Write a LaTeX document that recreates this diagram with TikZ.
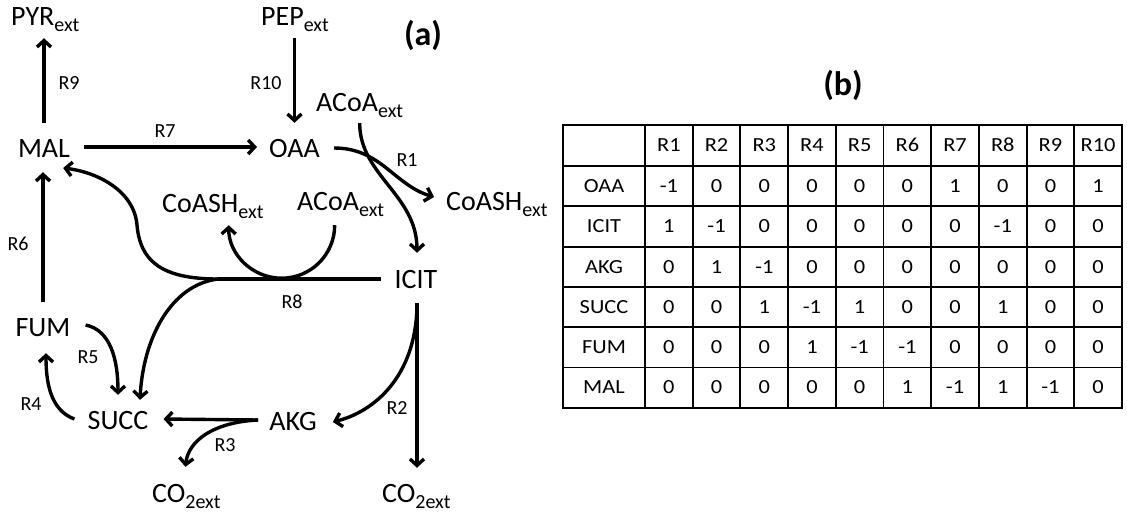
\documentclass[tikz,border=0pt]{standalone}
\usepackage{fontspec}
\setmainfont{Carlito}
\usetikzlibrary{arrows.meta}
\newcommand\subx[1]{\raisebox{-6.5pt}{\fontsize{20}{22}\selectfont #1}}
\begin{document}
\begin{tikzpicture}[x=1pt,y=-1pt,
  met/.style={font=\fontsize{28}{31}\selectfont, inner sep=0pt, text height=18pt, text depth=8pt},
  rl/.style={font=\fontsize{20}{22}\selectfont, inner sep=0pt, text height=12.6pt, text depth=0pt},
  tb/.style={font=\fontsize{20}{23}\selectfont, inner sep=0pt, text height=12.6pt, text depth=0pt},
  lbl/.style={font=\fontsize{34}{37}\selectfont\bfseries, inner sep=0pt},
  flow/.style={line width=3.4pt, -{Straight Barb[length=6.5pt,width=14pt]}},
  bond/.style={line width=3.4pt},
  tblline/.style={line width=1.9pt}]
\useasboundingbox (0,0) rectangle (1127,512);

% ---------- metabolites ----------
\node[met,anchor=base west] (pyr)   at (11,25)   {PYR\subx{ext}};
\node[met,anchor=base west] (pep)   at (261,25)  {PEP\subx{ext}};
\node[met,anchor=base west] (acoa1) at (316,111) {ACoA\subx{ext}};
\node[met,anchor=base]      (mal)   at (44,157)  {MAL};
\node[met,anchor=base]      (oaa)   at (294.5,157) {OAA};
\node[met,anchor=base west] (coash1) at (446,210) {CoASH\subx{ext}};
\node[met,anchor=base west] (coash2) at (162,212) {CoASH\subx{ext}};
\node[met,anchor=base west] (acoa2) at (297,210) {ACoA\subx{ext}};
\node[met,anchor=base]      (icit)  at (416,288) {ICIT};
\node[met,anchor=base]      (fum)   at (43,336)  {FUM};
\node[met,anchor=base]      (succ)  at (118,429) {SUCC};
\node[met,anchor=base]      (akg)   at (293,430) {AKG};
\node[met,anchor=base west] (co2a)  at (152,502) {CO\subx{2ext}};
\node[met,anchor=base west] (co2b)  at (382,502) {CO\subx{2ext}};

\node[lbl] (la) at (423,35) {(a)};
\node[lbl] (lb) at (843,85) {(b)};

% ---------- reaction labels ----------
\node[rl] (r9)  at (69,83)   {R9};
\node[rl] (r10) at (266,83)  {R10};
\node[rl] (r7)  at (165,131) {R7};
\node[rl] (r1)  at (407,160) {R1};
\node[rl] (r6)  at (18,244)  {R6};
\node[rl] (r8)  at (292,302) {R8};
\node[rl] (r5)  at (88,357)  {R5};
\node[rl] (r4)  at (31,404)  {R4};
\node[rl] (r2)  at (397,408) {R2};
\node[rl] (r3)  at (225,445) {R3};

% ---------- connectors ----------
% R9
\draw[flow, shorten <=16pt, shorten >=5pt] (mal.north) -- (mal.north |- pyr.south);
% R10
\draw[flow, shorten <=5pt, shorten >=16pt] (oaa.north |- pep.south) -- (oaa.north);
% R7
\draw[flow, shorten <=14pt, shorten >=12pt] ([yshift=5pt]mal.east) -- ([yshift=5pt]oaa.west);
% R6
\draw[flow, shorten <=16pt, shorten >=7pt] (fum.north) -- (fum.north |- mal.south);
% R1 : OAA -> CoASH_ext and ACoA_ext -> ICIT
\draw[flow] ([shift={(14pt,4pt)}]oaa.east) .. controls +(47,0) and +(-40,-12) .. ([shift={(-12pt,8pt)}]coash1.west);
\draw[flow] ([shift={(0pt,-4pt)}]acoa1.south) .. controls +(0,52) and +(0,-58) .. ([shift={(1pt,17pt)}]icit.north);
% R8
\coordinate (j) at (218,279);
\coordinate (c8) at (137,225);
\draw[bond] ([shift={(-13.5pt,4pt)}]icit.west) -- (j);
\draw[flow] (j) .. controls +(-58,0) and +(3,35) .. (c8) .. controls +(-3,-35) and +(33,4) .. ([shift={(-7pt,-16pt)}]mal.east);
\draw[flow] (j) .. controls +(-48,6) and +(3,-60) .. ([shift={(22pt,11pt)}]succ.north);
\draw[flow] ([shift={(-6pt,-7pt)}]acoa2.south) arc[start angle=0, end angle=180, radius=53];
% R5, R4
\draw[flow] ([shift={(15pt,6pt)}]fum.east) .. controls +(25,5) and +(0,-35) .. ([yshift=16pt]succ.north);
\draw[flow] ([shift={(-13pt,5pt)}]succ.west) .. controls +(-25,-9) and +(0,27) .. ([shift={(3pt,-9pt)}]fum.south);
% R3
\draw[flow] ([shift={(-11pt,5pt)}]akg.west) -- ([shift={(15pt,5pt)}]succ.east);
\draw[flow] ([shift={(-11pt,5pt)}]akg.west) .. controls +(-43,2) and +(3,-27) .. ([shift={(-1pt,17pt)}]co2a.north);
% R2
\draw[flow, shorten <=7pt, shorten >=16pt] ([xshift=1pt]icit.south) -- ([xshift=1pt]icit.south |- co2b.north);
\draw[flow] ([shift={(1pt,-7pt)}]icit.south) .. controls +(0,67) and +(47,-12) .. ([shift={(16pt,3pt)}]akg.east);

% ---------- table ----------
\draw[tblline] (563,125) rectangle (1122,407.8);
\foreach \k in {0,...,9} \draw[tblline] (645+47.7*\k,125) -- (645+47.7*\k,407.8);
\foreach \k in {0,...,5} \draw[tblline] (563,166+40.3*\k) -- (1122,166+40.3*\k);
\foreach \i in {1,...,10} \node[tb] (h\i) at (645+47.7*\i-23.85,145.5) {\scalebox{1.12}[1]{R\i}};
\foreach \nm/\vals [count=\j] in {OAA/{-1,0,0,0,0,0,1,0,0,1},
  ICIT/{1,-1,0,0,0,0,0,-1,0,0},
  AKG/{0,1,-1,0,0,0,0,0,0,0},
  SUCC/{0,0,1,-1,1,0,0,1,0,0},
  FUM/{0,0,0,1,-1,-1,0,0,0,0},
  MAL/{0,0,0,0,0,1,-1,1,-1,0}} {
  \node[tb] (row\j) at (604,145.85+40.3*\j) {\scalebox{1.12}[1]{\nm}};
  \foreach \v [count=\i] in \vals {
    \node[tb] (cell\j-\i) at (645+47.7*\i-23.85,145.85+40.3*\j) {\scalebox{1.12}[1]{\v}};
  }
}
\end{tikzpicture}
\end{document}
